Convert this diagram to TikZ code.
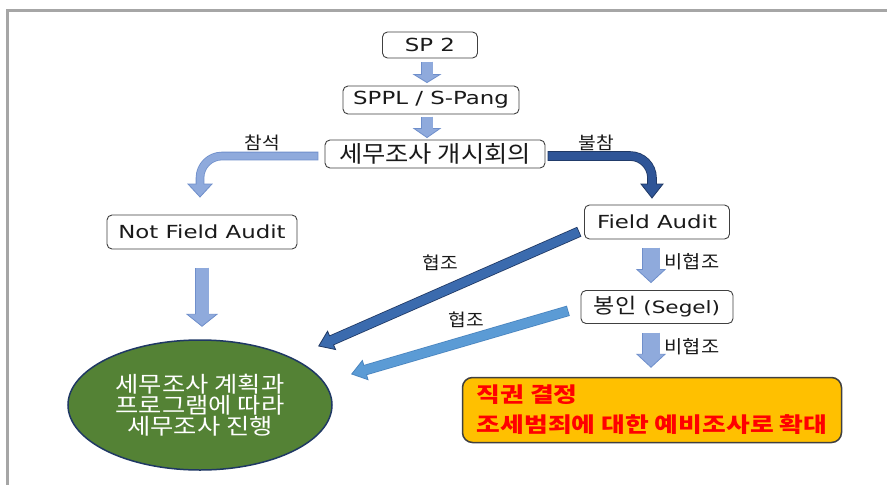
\documentclass[tikz,border=0pt]{standalone}
\usepackage{fontspec}
\setmainfont{Noto Sans CJK KR}
\newfontfamily\lat[FakeStretch=1.27]{DejaVu Sans}
\newfontfamily\krw[FakeStretch=1.1]{Noto Sans CJK KR}
\newfontfamily\kre[FakeStretch=1.15]{Noto Sans CJK KR}
\newfontfamily\krb[FakeStretch=1.23]{Noto Sans CJK KR}
\usetikzlibrary{calc,shapes.geometric}
\definecolor{framegray}{HTML}{A6A6A6}
\definecolor{boxline}{HTML}{404040}
\definecolor{lbfill}{HTML}{8FAADC}
\definecolor{lbline}{HTML}{6F8FCB}
\definecolor{dbfill}{HTML}{2F5597}
\definecolor{dbline}{HTML}{1F3864}
\definecolor{ddfill}{HTML}{3B6BAE}
\definecolor{mbfill}{HTML}{5B9BD5}
\definecolor{mbline}{HTML}{4A85BF}
\definecolor{ellfill}{HTML}{548235}
\definecolor{ellline}{HTML}{1F3864}
\definecolor{orangefill}{HTML}{FFC000}
\definecolor{txtred}{HTML}{FF0000}
\definecolor{txt}{HTML}{1A1A1A}
% block arrow: #1 start, #2 tip, #3 shaft width, #4 half head width, #5 head length, #6 fill, #7 border
\newcommand\barrow[7]{%
  \path (#1) coordinate (bs) (#2) coordinate (bt);
  \coordinate (bh) at ($(bt)!#5pt!(bs)$);
  \draw[#7, line width={#3pt+1.6pt}, shorten <=-0.8pt] (bs) -- (bh);
  \filldraw[fill=#6, draw=#7, line width=0.8pt, line join=miter]
    ($(bh)!#4pt!90:(bt)$) -- (bt) -- ($(bh)!#4pt!-90:(bt)$) -- cycle;
  \draw[#6, line width=#3pt, shorten >=-1.5pt] (bs) -- (bh);
}
\begin{document}
\begin{tikzpicture}[x=1pt,y=-1pt,
  box/.style={draw=boxline, fill=white, rounded corners=5pt, line width=0.9pt,
    inner sep=0pt, align=center, text=txt},
  latbox/.style={box, font=\lat\fontsize{18}{18}\selectfont},
  lbl/.style={inner sep=0pt, text=txt, font=\krw\fontsize{17.5}{17.5}\selectfont},
  lbltwo/.style={inner sep=0pt, text=txt, font=\krw\fontsize{18}{18}\selectfont}]
\useasboundingbox (0,0) rectangle (887,485);
\fill[white] (0,0) rectangle (887,485);
% frame
\draw[framegray, line width=3pt] (7.5,485) -- (7.5,10.5) -- (887,10.5);

% nodes
\node[latbox, minimum width=95pt, minimum height=26pt] (sp2) at (430,45) {SP 2};
\node[latbox, minimum width=176pt, minimum height=28pt] (sppl) at (431,100) {SPPL / S-Pang};
\node[box, minimum width=220pt, minimum height=28pt, font=\krw\fontsize{23}{23}\selectfont] (kaisi) at (435,154) {세무조사 개시회의};
\node[latbox, minimum width=190pt, minimum height=34pt] (nfa) at (202,232) {Not Field Audit};
\node[latbox, minimum width=145pt, minimum height=34pt] (fa) at (657,222) {Field Audit};
\node[box, minimum width=152pt, minimum height=33pt] (segel) at (657,307)
  {{\krw\fontsize{21}{21}\selectfont 봉인}\hspace{7pt}{\lat\fontsize{17}{17}\selectfont (Segel)}};
\node[ellipse, draw=ellline, fill=ellfill, line width=1.5pt, minimum width=264pt,
  minimum height=130pt, inner sep=0pt, align=center, text=white,
  font=\kre\fontsize{22}{21}\selectfont] (plan) at (200,405)
  {세무조사 계획과\\프로그램에 따라\\세무조사 진행};
\node[draw=boxline, fill=orangefill, rounded corners=10pt, line width=1.5pt,
  minimum width=379pt, minimum height=65pt, inner sep=0pt, align=left, text=txtred,
  font=\krb\bfseries\fontsize{21}{30}\selectfont] (final) at (652,410)
  {직권 결정\\조세범죄에 대한 예비조사로 확대};

% labels
\node[lbl] (l1) at (262,143) {참석};
\node[lbl] (l2) at (596,143) {불참};
\node[lbl] (l3) at (440,263) {협조};
\node[lbl] (l4) at (466,320) {협조};
\node[lbltwo] (l5) at (692,262) {비협조};
\node[lbltwo] (l6) at (692,347) {비협조};

% straight vertical arrows
\barrow{$(sp2.south)+(-3,4)$}{$(sppl.north)+(-4,-3)$}{11}{13}{8}{lbfill}{lbline}
\barrow{$(sppl.south)+(-4,3)$}{$(kaisi.north)+(-8,-2)$}{11}{13}{9}{lbfill}{lbline}
\barrow{$(nfa.south)+(0,19)$}{$(plan.north)+(2,-13)$}{13}{15}{12}{lbfill}{lbline}
\barrow{$(fa.south)+(-6,9)$}{$(segel.north)+(-6,-7.5)$}{17}{14}{13}{lbfill}{lbline}
\barrow{$(segel.south)+(-6,9.5)$}{$(final.north)+(-1,-9.5)$}{17}{14}{13}{lbfill}{lbline}
% diagonal arrows
\barrow{$(fa.west)+(-5.5,10)$}{$(plan.east)+(-14,-59)$}{9}{10}{14}{ddfill}{dbline}
\barrow{$(segel.west)+(-13,4)$}{$(plan.east)+(19,-31)$}{9}{10}{14}{mbfill}{mbline}

% curved arrow left (attend)
\coordinate (c1) at (200,156);
\coordinate (c1h) at (200,184);
\coordinate (c1t) at (200,197);
\draw[lbline, line width=8.6pt, rounded corners=22pt, shorten <=-0.8pt]
  ($(kaisi.west)+(-7,2)$) -- (c1) -- (c1h);
\filldraw[fill=lbfill, draw=lbline, line width=0.8pt, line join=miter]
  ($(c1h)!12pt!90:(c1t)$) -- (c1t) -- ($(c1h)!12pt!-90:(c1t)$) -- cycle;
\draw[lbfill, line width=7pt, rounded corners=22pt, shorten >=-1.5pt]
  ($(kaisi.west)+(-7,2)$) -- (c1) -- (c1h);

% curved arrow right (absent)
\coordinate (c2) at (652,156);
\coordinate (c2h) at (652,184);
\coordinate (c2t) at (652,198);
\draw[dbline, line width=9.6pt, rounded corners=22pt, shorten <=-0.8pt]
  ($(kaisi.east)+(3,2)$) -- (c2) -- (c2h);
\filldraw[fill=dbfill, draw=dbline, line width=0.8pt, line join=miter]
  ($(c2h)!11pt!90:(c2t)$) -- (c2t) -- ($(c2h)!11pt!-90:(c2t)$) -- cycle;
\draw[dbfill, line width=8pt, rounded corners=22pt, shorten >=-1.5pt]
  ($(kaisi.east)+(3,2)$) -- (c2) -- (c2h);
\end{tikzpicture}
\end{document}
